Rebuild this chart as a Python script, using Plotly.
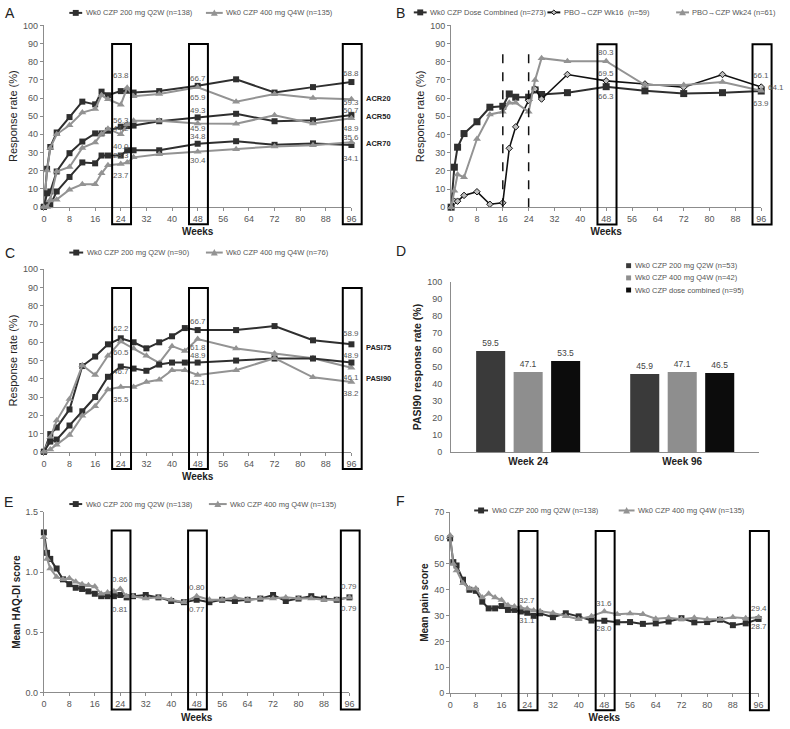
import plotly.graph_objects as go

W, H = 790, 729
FONT = "Liberation Sans, Arial, sans-serif"
DARK = "#2f2f2f"
LIGHT = "#939393"
AXIS = "#8c8c8c"
TICK = "#555555"
LABEL = "#5a5a5a"
TITLE = "#222222"

# ---------------- data ----------------
weeks_ab = [0, 1, 2, 4, 8, 12, 16, 18, 20, 24, 26, 28, 36, 48, 60, 72, 84, 96]
acr20_200 = [0, 21, 33, 41, 49.5, 58, 56.5, 63.5, 61.5, 63.8, 64, 63, 63.8, 66.7, 70.3, 63, 66, 68.8]
acr20_400 = [0, 20, 32.5, 40, 45, 52, 54, 61.5, 59.3, 56.3, 65.6, 61, 62.2, 65.9, 58, 62.2, 60, 59.3]
acr50_200 = [0, 7.5, 8.5, 19.5, 29.6, 36, 40.5, 40.5, 42, 44.2, 44.5, 44.8, 47.2, 49.3, 51.3, 47.2, 47.8, 50.7]
acr50_400 = [0, 2, 4, 19.5, 22, 32.5, 35.5, 40.2, 43, 40.0, 45.5, 47.5, 47.5, 45.9, 45.8, 50.5, 46, 48.9]
acr70_200 = [0, 1, 1, 8.5, 16.5, 24.5, 24, 28.3, 28.3, 28.3, 31.2, 31.2, 31.2, 34.8, 36.2, 34.2, 35, 34.1]
acr70_400 = [0, 0, 3.5, 4, 9.5, 12.5, 12.5, 18.5, 23, 23.7, 24.5, 27.3, 29, 30.4, 31.8, 33.3, 34, 35.6]

b_combined = [0, 22, 33, 40.5, 47, 55, 55.5, 62.3, 60.5, 60.5, 64.5, 62, 63, 66.3, 64, 62.5, 63, 63.9]
b_pbo_wk16 = [0, 3.3, 3.3, 6.5, 8.5, 1.6, 2.4, 32.4, 44.2, 58.7, 65, 59.5, 73, 69.5, 67.8, 66, 73, 66.1]
b_pbo_wk24 = [0, 9, 18, 16.5, 37.5, 51, 52.5, 57.5, 57.5, 52.5, 70, 82, 80.3, 80.3, 67.2, 67.2, 68.9, 64.1]
switch_weeks = [16, 24]

weeks_c = [0, 2, 4, 8, 12, 16, 20, 24, 28, 32, 36, 40, 44, 48, 60, 72, 84, 96]
pasi75_200 = [0, 9.7, 13.3, 23.2, 47.0, 52.2, 58.9, 62.2, 60.0, 56.7, 60.0, 63.3, 67.8, 66.7, 66.7, 68.9, 61.1, 58.9]
pasi75_400 = [0, 7.9, 17.1, 28.9, 47.4, 42.1, 52.6, 60.5, 56.6, 52.6, 48.7, 57.9, 55.3, 61.8, 56.6, 53.9, 51.3, 46.1]
pasi90_200 = [0, 5.6, 6.7, 14.4, 22.2, 30.0, 41.1, 46.7, 45.6, 44.4, 47.8, 48.9, 48.9, 48.9, 50.0, 51.1, 51.1, 48.9]
pasi90_400 = [0, 1.3, 3.9, 9.2, 19.7, 25.0, 34.2, 35.5, 35.5, 38.2, 39.5, 44.7, 44.7, 42.1, 44.7, 51.3, 40.8, 38.2]

d_categories = ["Week 24", "Week 96"]
d_200 = [59.5, 45.9]
d_400 = [47.1, 47.1]
d_combined = [53.5, 46.5]

weeks_ef = [0, 1, 2, 4, 6, 8, 10, 12, 14, 16, 18, 20, 22, 24, 26, 28, 32, 36, 40, 44, 48,
            52, 56, 60, 64, 68, 72, 76, 80, 84, 88, 92, 96]
haq_200 = [1.33, 1.16, 1.11, 1.03, 0.94, 0.90, 0.87, 0.86, 0.84, 0.82, 0.80, 0.80, 0.80, 0.81,
           0.79, 0.80, 0.81, 0.79, 0.76, 0.75, 0.77, 0.75, 0.77, 0.76, 0.77, 0.78, 0.81, 0.76,
           0.78, 0.80, 0.78, 0.77, 0.79]
haq_400 = [1.29, 1.11, 1.03, 0.96, 0.94, 0.95, 0.92, 0.90, 0.89, 0.88, 0.82, 0.83, 0.84, 0.86,
           0.80, 0.80, 0.78, 0.79, 0.77, 0.75, 0.80, 0.77, 0.77, 0.79, 0.77, 0.78, 0.78, 0.79,
           0.78, 0.78, 0.77, 0.77, 0.79]
pain_200 = [59.9, 50.7, 49.4, 43.9, 40.0, 39.6, 35.4, 32.8, 32.8, 33.7, 32.2, 32.2, 31.6, 31.1,
            29.9, 30.9, 29.4, 30.9, 29.7, 28.1, 28.0, 27.4, 27.5, 26.8, 27.0, 27.7, 29.0, 27.4,
            27.5, 28.4, 26.3, 27.0, 28.7]
pain_400 = [61.0, 50.0, 47.5, 42.5, 40.5, 40.5, 37.0, 38.5, 37.0, 36.0, 34.0, 33.5, 33.0, 32.7,
            32.0, 31.7, 31.0, 29.8, 28.6, 29.8, 31.6, 30.5, 30.8, 30.5, 28.8, 29.2, 28.6, 29.2,
            28.6, 28.6, 29.4, 29.0, 29.4]

highlight_weeks = [24, 48, 96]
highlight_weeks_b = [48, 96]
week_ticks = list(range(0, 97, 8))

# ---------------- layout helpers ----------------
def px(x):
    return x / W


def py(y):
    return 1 - y / H


fig = go.Figure()
shapes = []
annotations = []


def axname(n, letter):
    return letter if n == 1 else f"{letter}{n}"


def add_series(n, x, y, color, symbol, size, width=2.0, line_color=None, mline=None, name=""):
    fig.add_trace(go.Scatter(
        x=x, y=y, mode="lines+markers", name=name, showlegend=False, cliponaxis=False,
        line=dict(color=line_color or color, width=width),
        marker=dict(symbol=symbol, size=size, color=color,
                    line=mline if mline else dict(width=0)),
        xaxis=axname(n, "x"), yaxis=axname(n, "y")))


BOX_OFFSET, BOX_HALF = 0.25, 2.95
BOX_Y0, BOX_Y1 = -0.095, 0.897


def add_boxes(n, weeks):
    for wk in weeks:
        c = (wk + BOX_OFFSET) / 96.0
        hw = BOX_HALF / 96.0
        shapes.append(dict(type="rect", xref=f"{axname(n, 'x')} domain",
                           yref=f"{axname(n, 'y')} domain",
                           x0=c - hw, x1=c + hw, y0=BOX_Y0, y1=BOX_Y1,
                           line=dict(color="black", width=2), layer="above"))


def value_label(n, weeks, series, wk, yshift, xshift=0, fmt="{:.1f}"):
    v = series[weeks.index(wk)]
    annotations.append(dict(text=fmt.format(v), x=wk, y=v, xref=axname(n, "x"),
                            yref=axname(n, "y"), showarrow=False, yshift=yshift,
                            xshift=xshift, font=dict(size=8, color=LABEL, family=FONT)))


def side_label(n, text, level):
    annotations.append(dict(text=text, x=1, y=level, xref=f"{axname(n, 'x')} domain",
                            yref=axname(n, "y"), xanchor="left", xshift=13, showarrow=False,
                            font=dict(size=7.5, color=TITLE, family=FONT, weight="bold")))


def panel_letter(letter, x, y):
    annotations.append(dict(text=letter, x=px(x), y=py(y), xref="paper", yref="paper",
                            showarrow=False, xanchor="center", yanchor="middle",
                            font=dict(size=14, color=TITLE, family=FONT)))


def legend_entry(x, y, color, symbol, text, line_len=13, line_w=2, msize=6, mfill=None,
                 mline=None):
    if line_len:
        shapes.append(dict(type="line", xref="paper", yref="paper", x0=px(x), x1=px(x + line_len),
                           y0=py(y), y1=py(y), line=dict(color=color, width=line_w)))
    cx = x + line_len / 2.0 if line_len else x
    h = msize / 2.0
    fill = mfill or color
    if symbol == "square":
        path = (f"M{px(cx - h)},{py(y - h)} L{px(cx + h)},{py(y - h)} "
                f"L{px(cx + h)},{py(y + h)} L{px(cx - h)},{py(y + h)} Z")
    elif symbol == "triangle":
        path = (f"M{px(cx)},{py(y - h - 0.5)} L{px(cx + h + 0.5)},{py(y + h)} "
                f"L{px(cx - h - 0.5)},{py(y + h)} Z")
    else:  # diamond
        path = (f"M{px(cx)},{py(y - h)} L{px(cx + h)},{py(y)} "
                f"L{px(cx)},{py(y + h)} L{px(cx - h)},{py(y)} Z")
    shapes.append(dict(type="path", xref="paper", yref="paper", path=path, fillcolor=fill,
                       line=dict(color=mline or fill, width=1 if mline else 0)))
    tx = x + (line_len if line_len else h) + 1.5
    annotations.append(dict(text=text, x=px(tx), y=py(y), xref="paper", yref="paper",
                            xanchor="left", yanchor="middle", showarrow=False,
                            font=dict(size=7.5, color=TICK, family=FONT)))


# ---------------- panel A ----------------
add_series(1, weeks_ab, acr20_200, DARK, "square", 6, name="ACR20 200 mg Q2W")
add_series(1, weeks_ab, acr20_400, LIGHT, "triangle-up", 7, name="ACR20 400 mg Q4W")
add_series(1, weeks_ab, acr50_200, DARK, "square", 6, name="ACR50 200 mg Q2W")
add_series(1, weeks_ab, acr50_400, LIGHT, "triangle-up", 7, name="ACR50 400 mg Q4W")
add_series(1, weeks_ab, acr70_200, DARK, "square", 6, name="ACR70 200 mg Q2W")
add_series(1, weeks_ab, acr70_400, LIGHT, "triangle-up", 7, name="ACR70 400 mg Q4W")
add_boxes(1, highlight_weeks)
for s, wk, dy in [(acr20_200, 24, 16), (acr20_400, 24, -16), (acr50_200, 24, -2),
                  (acr50_400, 24, -12), (acr70_200, 24, 0), (acr70_400, 24, -12),
                  (acr20_200, 48, 7), (acr20_400, 48, -10), (acr50_200, 48, 7),
                  (acr50_400, 48, -5), (acr70_200, 48, 7), (acr70_400, 48, -9),
                  (acr20_200, 96, 9), (acr20_400, 96, -3), (acr50_200, 96, 4),
                  (acr50_400, 96, -10), (acr70_400, 96, 5), (acr70_200, 96, -13)]:
    value_label(1, weeks_ab, s, wk, dy)
side_label(1, "ACR20", 60)
side_label(1, "ACR50", 50)
side_label(1, "ACR70", 35)
legend_entry(67, 8, DARK, "square", "Wk0 CZP 200 mg Q2W (n=138)")
legend_entry(205, 8, LIGHT, "triangle", "Wk0 CZP 400 mg Q4W (n=135)", line_len=17)

# ---------------- panel B ----------------
add_series(2, weeks_ab, b_combined, DARK, "square", 7, name="Wk0 CZP Dose Combined")
add_series(2, weeks_ab, b_pbo_wk16, "#bdbdbd", "diamond", 5, width=1.6, line_color="#111111",
           mline=dict(color="#111111", width=1), name="PBO→CZP Wk16")
add_series(2, weeks_ab, b_pbo_wk24, LIGHT, "triangle-up", 7, name="PBO→CZP Wk24")
for wk in switch_weeks:
    shapes.append(dict(type="line", xref="x2", yref="y2", x0=wk, x1=wk, y0=0, y1=88,
                       line=dict(color="#111111", width=1.5, dash="dash")))
add_boxes(2, highlight_weeks_b)
for s, wk, dy, dx in [(b_pbo_wk24, 48, 9, 0), (b_pbo_wk16, 48, 7, 0), (b_combined, 48, -10, 0),
                      (b_pbo_wk16, 96, 12, 0), (b_pbo_wk24, 96, 3, 15),
                      (b_combined, 96, -12, 0)]:
    value_label(2, weeks_ab, s, wk, dy, dx)
legend_entry(415, 7.5, DARK, "square", "Wk0 CZP Dose Combined (n=273)")
legend_entry(550, 7.5, "#111111", "diamond", "PBO→CZP Wk16  (n=59)", msize=5,
             mfill="#bdbdbd", mline="#111111")
legend_entry(680, 7.5, LIGHT, "triangle", "PBO→CZP Wk24 (n=61)")

# ---------------- panel C ----------------
add_series(3, weeks_c, pasi75_200, DARK, "square", 6, name="PASI75 200 mg Q2W")
add_series(3, weeks_c, pasi75_400, LIGHT, "triangle-up", 7, name="PASI75 400 mg Q4W")
add_series(3, weeks_c, pasi90_200, DARK, "square", 6, name="PASI90 200 mg Q2W")
add_series(3, weeks_c, pasi90_400, LIGHT, "triangle-up", 7, name="PASI90 400 mg Q4W")
add_boxes(3, highlight_weeks)
for s, wk, dy in [(pasi75_200, 24, 10), (pasi75_400, 24, -11), (pasi90_200, 24, -5),
                  (pasi90_400, 24, -12), (pasi75_200, 48, 9), (pasi75_400, 48, -8),
                  (pasi90_200, 48, 7), (pasi90_400, 48, -8), (pasi75_200, 96, 11),
                  (pasi90_200, 96, 7), (pasi75_400, 96, -10), (pasi90_400, 96, -11)]:
    value_label(3, weeks_c, s, wk, dy)
side_label(3, "PASI75", 57)
side_label(3, "PASI90", 40)
legend_entry(67, 251, DARK, "square", "Wk0 CZP 200 mg Q2W (n=90)", line_len=14)
legend_entry(205, 251, LIGHT, "triangle", "Wk0 CZP 400 mg Q4W (n=76)", line_len=17)

# ---------------- panel D ----------------
for vals, color, name in [(d_200, "#3a3a3a", "Wk0 CZP 200 mg Q2W (n=53)"),
                          (d_400, "#8e8e8e", "Wk0 CZP 400 mg Q4W (n=42)"),
                          (d_combined, "#0c0c0c", "Wk0 CZP dose combined (n=95)")]:
    fig.add_trace(go.Bar(x=d_categories, y=vals, name=name, marker=dict(color=color, line=dict(width=0)),
                         text=[f"{v:.1f}" for v in vals], textposition="outside",
                         textfont=dict(size=8.5, color="#444444", family=FONT),
                         cliponaxis=False, showlegend=False, xaxis="x4", yaxis="y4"))
legend_entry(632, 264.3, "#3a3a3a", "square", "Wk0 CZP 200 mg Q2W (n=53)", line_len=0, msize=5)
legend_entry(632, 276.7, "#8e8e8e", "square", "Wk0 CZP 400 mg Q4W (n=42)", line_len=0, msize=5)
legend_entry(632, 289, "#0c0c0c", "square", "Wk0 CZP dose combined (n=95)", line_len=0, msize=5)

# ---------------- panel E ----------------
add_series(5, weeks_ef, haq_200, DARK, "square", 6, name="200 mg Q2W")
add_series(5, weeks_ef, haq_400, LIGHT, "triangle-up", 7, name="400 mg Q4W")
add_boxes(5, highlight_weeks)
for s, wk, dy in [(haq_400, 24, 9), (haq_200, 24, -15), (haq_400, 48, 9), (haq_200, 48, -10),
                  (haq_400, 96, 11), (haq_200, 96, -11)]:
    value_label(5, weeks_ef, s, wk, dy, fmt="{:.2f}")
legend_entry(67, 506, DARK, "square", "Wk0 CZP 200 mg Q2W (n=138)")
legend_entry(208, 506, LIGHT, "triangle", "Wk0 CZP 400 mg Q4W (n=135)", line_len=18)

# ---------------- panel F ----------------
add_series(6, weeks_ef, pain_200, DARK, "square", 6, name="200 mg Q2W")
add_series(6, weeks_ef, pain_400, LIGHT, "triangle-up", 7, name="400 mg Q4W")
add_boxes(6, highlight_weeks)
for s, wk, dy in [(pain_400, 24, 8), (pain_200, 24, -8), (pain_400, 48, 8), (pain_200, 48, -8),
                  (pain_400, 96, 9), (pain_200, 96, -8)]:
    value_label(6, weeks_ef, s, wk, dy)
legend_entry(476, 512.5, DARK, "square", "Wk0 CZP 200 mg Q2W (n=138)", line_len=14)
legend_entry(622, 512.5, LIGHT, "triangle", "Wk0 CZP 400 mg Q4W (n=135)", line_len=16)

for letter, x, y in [("A", 7, 8), ("B", 402, 8), ("C", 7, 251), ("D", 402, 249),
                     ("E", 6, 504), ("F", 402, 503)]:
    panel_letter(letter, x, y)

# ---------------- axes ----------------
tickfont = dict(size=9, color=TICK, family=FONT)


def xaxis_weeks(x0, x1, anchor):
    return dict(domain=[px(x0), px(x1)], range=[0, 96], tickvals=week_ticks, anchor=anchor,
                showline=True, linecolor=AXIS, linewidth=1, ticks="outside", ticklen=3,
                tickcolor=AXIS, tickfont=tickfont, showgrid=False, zeroline=False,
                title=dict(text="Weeks", standoff=5,
                           font=dict(size=10, color=TITLE, family=FONT, weight="bold")))


def yaxis_line(y_top, y_bottom, anchor, rng, tickvals, title, bold, fmt=None, size=11):
    d = dict(domain=[py(y_bottom), py(y_top)], range=rng, tickvals=tickvals, anchor=anchor,
             showline=True, linecolor=AXIS, linewidth=1, ticks="outside", ticklen=3,
             tickcolor=AXIS, tickfont=tickfont, showgrid=False, zeroline=False,
             title=dict(text=title, standoff=3,
                        font=dict(size=size, color=TITLE, family=FONT,
                                  weight="bold" if bold else "normal")))
    if fmt:
        d["tickformat"] = fmt
    return d


pct_ticks = list(range(0, 101, 10))
layout = dict(
    width=W, height=H, margin=dict(l=0, r=0, t=0, b=0),
    paper_bgcolor="white", plot_bgcolor="white",
    font=dict(family=FONT, color=TICK),
    showlegend=False,
    barmode="group", bargap=0.27, bargroupgap=0.225,
    xaxis=xaxis_weeks(41.3, 352, "y"),
    yaxis=yaxis_line(20.7, 204.7, "x", [0, 100], pct_ticks, "Response rate (%)", False),
    xaxis2=xaxis_weeks(452.7, 766, "y2"),
    yaxis2=yaxis_line(20.7, 205, "x2", [0, 100], pct_ticks, "Response rate (%)", False),
    xaxis3=xaxis_weeks(41.3, 352, "y3"),
    yaxis3=yaxis_line(268, 453, "x3", [0, 100], pct_ticks, "Response rate (%)", False),
    xaxis4=dict(domain=[px(452.7), px(764)], anchor="y4", showline=True, linecolor=AXIS,
                linewidth=1, ticks="", showgrid=False, zeroline=False,
                tickfont=dict(size=10, color=TITLE, family=FONT, weight="bold")),
    yaxis4=dict(domain=[py(453.2), py(281)], anchor="x4", range=[0, 100], tickvals=pct_ticks,
                showline=True, linecolor=AXIS, linewidth=1, ticks="outside", ticklen=6,
                tickcolor="rgba(0,0,0,0)", tickfont=tickfont, showgrid=False, zeroline=False,
                title=dict(text="PASI90 response rate (%)", standoff=3,
                           font=dict(size=10.5, color=TITLE, family=FONT, weight="bold"))),
    xaxis5=xaxis_weeks(41.3, 350, "y5"),
    yaxis5=yaxis_line(514, 697, "x5", [0, 1.5], [0, 0.5, 1.0, 1.5], "Mean HAQ-DI score", True,
                      fmt=".1f", size=10),
    xaxis6=xaxis_weeks(451.7, 763.3, "y6"),
    yaxis6=yaxis_line(514.3, 697.7, "x6", [0, 70], list(range(0, 71, 10)), "Mean pain score",
                      True, size=10),
    shapes=shapes,
    annotations=annotations,
)
fig.update_layout(**layout)
fig.write_html("out.html", config={"displayModeBar": False},
               post_script="document.body.style.margin='0';document.body.style.overflow='hidden';")
